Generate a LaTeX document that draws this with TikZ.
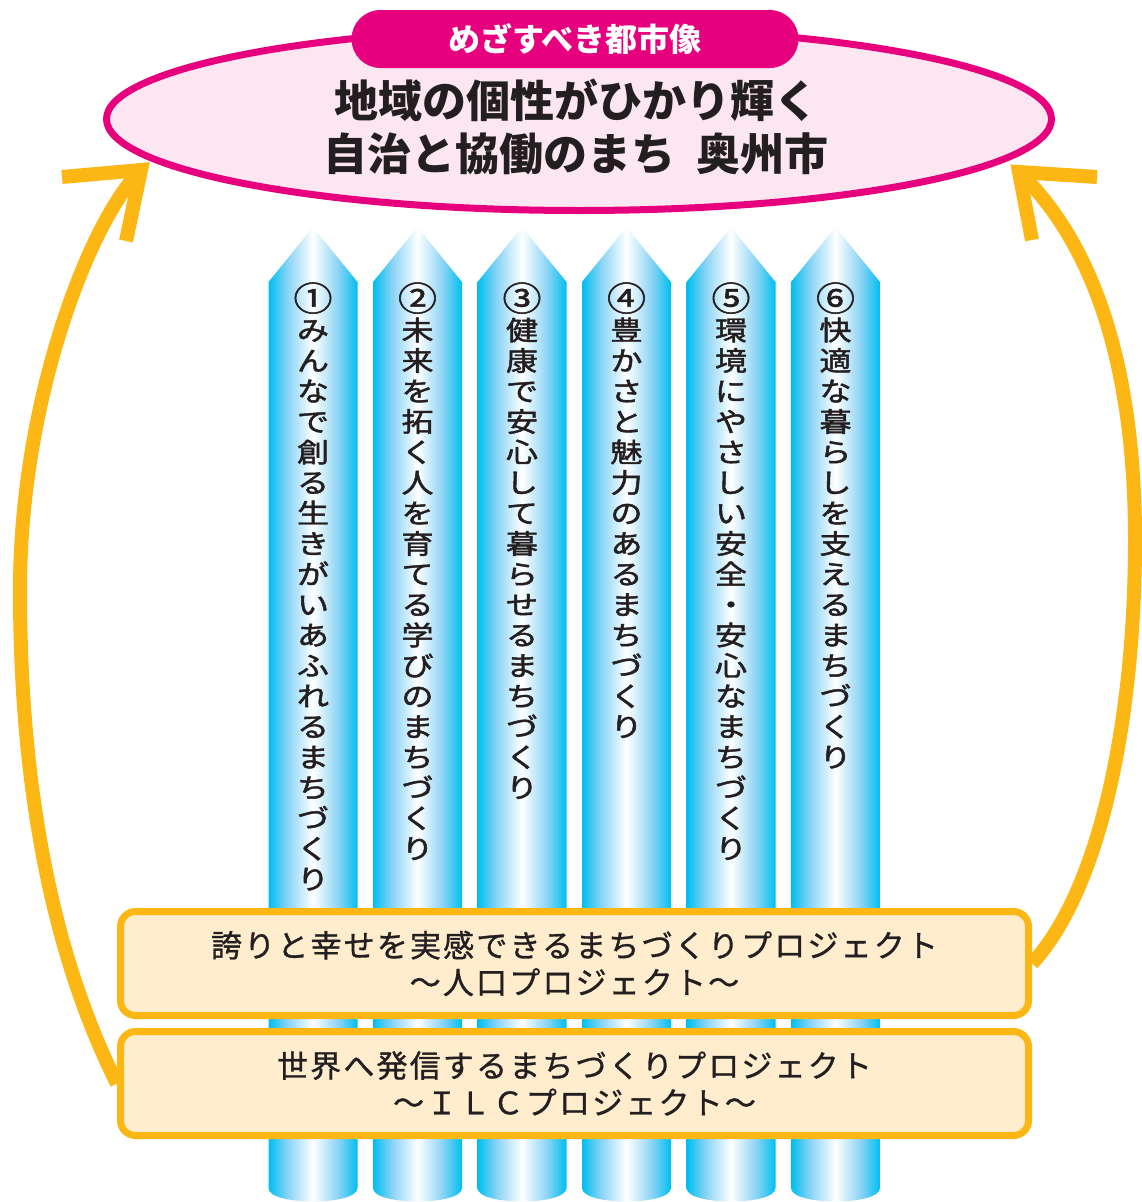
\documentclass[tikz,border=0pt]{standalone}
\usepackage{fontspec}
\usepackage{graphicx}
\usetikzlibrary{shapes.geometric}
\newfontfamily\jp{Noto Sans CJK JP}
\newfontfamily\jpcol[FakeBold=1.6]{Noto Sans CJK JP}
\newfontfamily\jpsp[LetterSpace=7,FakeBold=1]{Noto Sans CJK JP}
\definecolor{mag}{RGB}{230,0,126}
\definecolor{pinkfill}{RGB}{252,230,241}
\definecolor{orng}{RGB}{252,183,21}
\definecolor{cream}{RGB}{255,237,206}
\definecolor{ink}{RGB}{35,31,32}
\definecolor{pcyan}{RGB}{0,190,240}
\definecolor{plight}{RGB}{140,212,245}
\pgfdeclarehorizontalshading{pillarshade}{100bp}{color(0bp)=(pcyan); color(25bp)=(pcyan); color(36bp)=(plight); color(50bp)=(white); color(64bp)=(plight); color(75bp)=(pcyan); color(100bp)=(pcyan)}
\makeatletter
\def\vst@end{vst@end}
\newcommand\vstack[2]{\vbox{\offinterlineskip\hbox to 36pt{\hss\vrule height 25.25pt depth 5.25pt width 0pt\raisebox{-1.2pt}{\scalebox{1.22}[1.05]{#1}}\hss}\expandafter\vst@ck#2\vst@end}}
\def\vst@ck#1{\ifx#1\vst@end\else\hbox to 36pt{\hss\vrule height 25.25pt depth 5.25pt width 0pt\scalebox{1}[0.84]{#1}\hss}\expandafter\vst@ck\fi}
\makeatother
\begin{document}
\begin{tikzpicture}[x=1pt,y=-1pt,
  vtext/.style={anchor=north, inner sep=0pt, text=ink, font=\jpcol\fontsize{32}{32}\selectfont},
  projbox/.style={draw=orng, line width=7pt, fill=cream, rounded corners=15pt, minimum width=908pt, minimum height=104pt, inner sep=0pt, align=center, text=ink, font=\jpsp\fontsize{31}{37}\selectfont},
  goalshape/.style={ellipse, draw=mag, line width=7pt, fill=pinkfill, minimum width=945pt, minimum height=183pt, inner sep=0pt},
  tagbox/.style={fill=mag, rounded corners=29pt, minimum width=447pt, minimum height=58pt, inner sep=0pt, text=white, font=\jp\bfseries\fontsize{32}{32}\selectfont},
  titletext/.style={align=center, text=ink, font=\jp\bfseries\fontsize{44}{53}\selectfont, inner sep=0pt},
  flow/.style={draw=orng, line width=14pt, line cap=butt},
  chev/.style={draw=orng, line width=14pt, line cap=butt, line join=miter, miter limit=10}
]
\useasboundingbox (0,0) rectangle (1142,1202);
% goal ellipse
\node[goalshape] (goal) at (579,119) {};
\node[tagbox] (tag) at (575,39) {めざすべき都市像};
\node[titletext] (title) at (576,126.5) {地域の個性がひかり輝く\\自治と協働のまち\hspace{0.5em}奥州市};
% pillars
\foreach \i/\num/\txt in {0/①/{みんなで創る生きがいあふれるまちづくり},1/②/{未来を拓く人を育てる学びのまちづくり},2/③/{健康で安心して暮らせるまちづくり},3/④/{豊かさと魅力のあるまちづくり},4/⑤/{環境にやさしい安全・安心なまちづくり},5/⑥/{快適な暮らしを支えるまちづくり}}{
  \pgfmathsetmacro\xc{313+104.5*\i}
  \shade[shading=pillarshade] (\xc-44.5,282) -- (\xc,227) -- (\xc+44.5,282) -- (\xc+44.5,1188) .. controls (\xc+44.5,1206) and (\xc-44.5,1206) .. (\xc-44.5,1188) -- cycle;
  \node[vtext] (col\i) at (\xc,282.25) {\vstack{\num}{\txt}};
}
% project boxes
\node[projbox] (box1) at (574.5,963.5) {誇りと幸せを実感できるまちづくりプロジェクト\\〜人口プロジェクト〜};
\node[projbox] (box2) at (574.5,1083.5) {世界へ発信するまちづくりプロジェクト\\〜ＩＬＣプロジェクト〜};
% arrows
\coordinate (tipL) at (141,170);
\coordinate (armLa) at (62,177);
\coordinate (armLb) at (126,241);
\coordinate (tipR) at (1019,172);
\coordinate (armRa) at (1097,177);
\coordinate (armRb) at (1032,240);
\draw[flow] (box2.west) .. controls (50,950) and (20,780) .. (20,590) .. controls (20,400) and (90,220) .. (tipL);
\draw[chev] (armLa) -- (tipL) -- (armLb);
\draw[flow] (box1.east) .. controls (1100,890) and (1135,720) .. (1135,540) .. controls (1135,380) and (1100,250) .. (tipR);
\draw[chev] (armRa) -- (tipR) -- (armRb);
\end{tikzpicture}
\end{document}
